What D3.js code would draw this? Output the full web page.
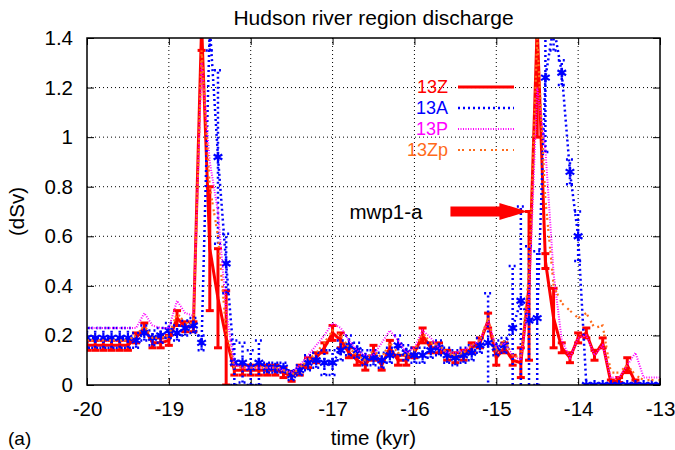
<!DOCTYPE html>
<html>
<head>
<meta charset="utf-8">
<script src="https://cdn.jsdelivr.net/npm/d3@7"></script>
<style>
  body { margin: 0; background: #fff; }
  text { font-family: "Liberation Sans", Arial, sans-serif; }
</style>
</head>
<body>
<div id="chart"></div>
<script>
// chart size
var svgWidth = 675;
var svgHeight = 450;

var margin = { top: 38, right: 15, bottom: 65, left: 87 };
var chartWidth = svgWidth - margin.left - margin.right;
var chartHeight = svgHeight - margin.top - margin.bottom;

// time axis (kyr), one sample every 0.1 kyr
var time = [-20.0, -19.9, -19.8, -19.7, -19.6, -19.5, -19.4, -19.3, -19.2, -19.1,
  -19.0, -18.9, -18.8, -18.7, -18.6, -18.5, -18.4, -18.3, -18.2, -18.1,
  -18.0, -17.9, -17.8, -17.7, -17.6, -17.5, -17.4, -17.3, -17.2, -17.1,
  -17.0, -16.9, -16.8, -16.7, -16.6, -16.5, -16.4, -16.3, -16.2, -16.1,
  -16.0, -15.9, -15.8, -15.7, -15.6, -15.5, -15.4, -15.3, -15.2, -15.1,
  -15.0, -14.9, -14.8, -14.7, -14.6, -14.5, -14.4, -14.3, -14.2, -14.1,
  -14.0, -13.9, -13.8, -13.7, -13.6, -13.5, -13.4, -13.3, -13.2, -13.1, -13.0];

// 13Z discharge and error
var z13 = [0.16, 0.16, 0.16, 0.16, 0.16, 0.16, 0.19, 0.23, 0.17, 0.17,
  0.18, 0.27, 0.235, 0.235, 1.45, 0.55, 0.35, 0.19, 0.06, 0.06,
  0.06, 0.06, 0.06, 0.06, 0.05, 0.035, 0.06, 0.09, 0.11, 0.15,
  0.21, 0.18, 0.13, 0.10, 0.08, 0.13, 0.08, 0.15, 0.10, 0.10,
  0.13, 0.20, 0.15, 0.15, 0.12, 0.11, 0.12, 0.15, 0.17, 0.26,
  0.11, 0.15, 0.10, 0.09, 0.40, 1.45, 0.50, 0.27, 0.15, 0.11,
  0.19, 0.21, 0.12, 0.17, 0.01, 0.02, 0.08, 0.01, 0.0, 0.0, 0.0];
var z13err = [0.02, 0.02, 0.02, 0.02, 0.02, 0.02, 0.02, 0.02, 0.02, 0.02,
  0.02, 0.03, 0.02, 0.02, 0.1, 0.25, 0.2, 0.19, 0.02, 0.02,
  0.02, 0.02, 0.02, 0.02, 0.02, 0.02, 0.02, 0.02, 0.02, 0.02,
  0.03, 0.03, 0.02, 0.02, 0.02, 0.03, 0.02, 0.03, 0.02, 0.02,
  0.02, 0.03, 0.02, 0.02, 0.02, 0.02, 0.02, 0.02, 0.02, 0.03,
  0.03, 0.02, 0.02, 0.06, 0.3, 0.45, 0.03, 0.12, 0.02, 0.02,
  0.02, 0.02, 0.02, 0.02, 0.01, 0.01, 0.03, 0.01, 0.0, 0.0, 0.0];

// 13A discharge and error
var a13 = [0.19, 0.19, 0.19, 0.19, 0.19, 0.19, 0.18, 0.21, 0.19, 0.20,
  0.22, 0.21, 0.23, 0.24, 0.17, 1.45, 0.92, 0.49, 0.09, 0.09,
  0.07, 0.09, 0.07, 0.07, 0.07, 0.04, 0.06, 0.09, 0.10, 0.09,
  0.09, 0.14, 0.16, 0.14, 0.11, 0.11, 0.10, 0.12, 0.16, 0.13,
  0.12, 0.12, 0.14, 0.15, 0.12, 0.11, 0.12, 0.13, 0.16, 0.17,
  0.15, 0.16, 0.23, 0.34, 0.26, 0.27, 1.24, 1.45, 1.26, 0.86,
  0.60, 0.0, 0.0, 0.0, 0.0, 0.0, 0.0, 0.0, 0.0, 0.0, 0.0];
var a13err = [0.04, 0.04, 0.04, 0.04, 0.04, 0.04, 0.03, 0.03, 0.03, 0.03,
  0.03, 0.03, 0.03, 0.03, 0.03, 0.1, 0.35, 0.12, 0.09, 0.08,
  0.07, 0.09, 0.02, 0.02, 0.02, 0.02, 0.02, 0.03, 0.03, 0.05,
  0.05, 0.04, 0.04, 0.03, 0.03, 0.03, 0.03, 0.03, 0.04, 0.03,
  0.03, 0.03, 0.03, 0.03, 0.03, 0.03, 0.03, 0.03, 0.03, 0.2,
  0.03, 0.03, 0.25, 0.38, 0.3, 0.27, 0.3, 0.1, 0.05, 0.05,
  0.1, 0.0, 0.0, 0.0, 0.0, 0.0, 0.0, 0.0, 0.0, 0.0, 0.0];

// 13P discharge
var p13 = [0.23, 0.23, 0.23, 0.23, 0.23, 0.23, 0.23, 0.29, 0.24, 0.23,
  0.23, 0.34, 0.29, 0.28, 1.30, 0.90, 0.70, 0.30, 0.08, 0.07,
  0.07, 0.07, 0.07, 0.07, 0.06, 0.05, 0.08, 0.12, 0.16, 0.20,
  0.25, 0.23, 0.18, 0.14, 0.12, 0.12, 0.17, 0.22, 0.18, 0.13,
  0.15, 0.22, 0.19, 0.15, 0.13, 0.13, 0.14, 0.16, 0.18, 0.26,
  0.15, 0.17, 0.12, 0.10, 0.35, 1.20, 0.95, 0.45, 0.18, 0.11,
  0.19, 0.20, 0.12, 0.16, 0.03, 0.03, 0.08, 0.13, 0.03, 0.03, 0.03];

// 13Zp discharge
var zp13 = [0.18, 0.18, 0.18, 0.18, 0.18, 0.18, 0.20, 0.24, 0.19, 0.19,
  0.20, 0.29, 0.25, 0.25, 1.35, 0.80, 0.60, 0.22, 0.07, 0.07,
  0.07, 0.07, 0.07, 0.07, 0.06, 0.04, 0.07, 0.10, 0.13, 0.17,
  0.22, 0.20, 0.15, 0.12, 0.10, 0.14, 0.11, 0.17, 0.13, 0.12,
  0.14, 0.21, 0.17, 0.16, 0.13, 0.12, 0.13, 0.16, 0.18, 0.27,
  0.14, 0.18, 0.12, 0.11, 0.45, 1.40, 0.75, 0.40, 0.33, 0.30,
  0.27, 0.29, 0.23, 0.24, 0.05, 0.05, 0.08, 0.04, 0.02, 0.02, 0.02];

var xTicks = [-20, -19, -18, -17, -16, -15, -14, -13];
var yTicks = [0, 0.2, 0.4, 0.6, 0.8, 1, 1.2, 1.4];

var seriesNames = ["13Z", "13A", "13P", "13Zp"];
var seriesColors = ["#ff0000", "#0000ff", "#ff00ff", "#ff6a1a"];

// annotation: label and arrow in data units
var noteText = "mwp1-a";
var arrowFrom = [-15.56, 0.70];
var arrowTo = [-14.62, 0.70];

var fontSize = 20.5;

var svg = d3.select("#chart")
  .append("svg")
  .attr("width", svgWidth)
  .attr("height", svgHeight);

svg.append("rect").attr("width", svgWidth).attr("height", svgHeight).attr("fill", "#fff");

var chartGroup = svg.append("g")
  .attr("transform", `translate(${margin.left}, ${margin.top})`);

var x = d3.scaleLinear().domain([-20, -13]).range([0, chartWidth]);
var y = d3.scaleLinear().domain([0, 1.4]).range([chartHeight, 0]);

// grid
chartGroup.append("g")
  .selectAll("line.gx")
  .data(xTicks.slice(1, -1))
  .enter().append("line")
  .attr("x1", d => x(d)).attr("x2", d => x(d))
  .attr("y1", 0).attr("y2", chartHeight)
  .attr("stroke", "#000").attr("stroke-width", 1).attr("stroke-dasharray", "1,3");

chartGroup.append("g")
  .selectAll("line.gy")
  .data(yTicks.slice(1, -1))
  .enter().append("line")
  .attr("x1", 0).attr("x2", chartWidth)
  .attr("y1", d => y(d)).attr("y2", d => y(d))
  .attr("stroke", "#000").attr("stroke-width", 1).attr("stroke-dasharray", "1,3");

// axes
var bottomAxis = d3.axisBottom(x).tickValues(xTicks).tickFormat(d => String(d)).tickSizeInner(-7).tickSizeOuter(0).tickPadding(16);
var leftAxis = d3.axisLeft(y).tickValues(yTicks).tickFormat(d3.format("~g")).tickSizeInner(-7).tickSizeOuter(0).tickPadding(14);
var topAxis = d3.axisTop(x).tickValues(xTicks).tickFormat("").tickSizeInner(-7).tickSizeOuter(0);
var rightAxis = d3.axisRight(y).tickValues(yTicks).tickFormat("").tickSizeInner(-7).tickSizeOuter(0);

function styleAxis(g) {
  g.select(".domain").remove();
  g.selectAll(".tick line").attr("stroke", "#000").attr("stroke-width", 1);
  g.selectAll(".tick text").attr("fill", "#000").attr("font-size", fontSize)
    .attr("font-family", "Liberation Sans, Arial, sans-serif");
}

chartGroup.append("g").attr("transform", `translate(0, ${chartHeight})`).call(bottomAxis).call(styleAxis);
chartGroup.append("g").call(leftAxis).call(styleAxis);
chartGroup.append("g").call(topAxis).call(styleAxis);
chartGroup.append("g").attr("transform", `translate(${chartWidth}, 0)`).call(rightAxis).call(styleAxis);

// clip
svg.append("clipPath").attr("id", "plotclip")
  .append("rect").attr("x", 0).attr("y", 0).attr("width", chartWidth).attr("height", chartHeight);

var plot = chartGroup.append("g").attr("clip-path", "url(#plotclip)");

var line = d3.line().x(d => x(d.t)).y(d => y(d.v));

function rows(values, errs) {
  return time.map((t, i) => ({ t: t, v: values[i], e: errs ? errs[i] : 0 }));
}

function errorBars(g, data, color, width, dash) {
  var bars = g.append("g");
  data.forEach(function(d) {
    if (d.e <= 0) return;
    var xp = x(d.t), lo = y(d.v - d.e), hi = y(d.v + d.e);
    bars.append("line").attr("x1", xp).attr("x2", xp).attr("y1", lo).attr("y2", hi);
    bars.append("line").attr("x1", xp - 4).attr("x2", xp + 4).attr("y1", lo).attr("y2", lo);
    bars.append("line").attr("x1", xp - 4).attr("x2", xp + 4).attr("y1", hi).attr("y2", hi);
  });
  bars.attr("stroke", color).attr("stroke-width", width);
  if (dash) bars.attr("stroke-dasharray", dash);
}

// 13Z
var zData = rows(z13, z13err);
errorBars(plot, zData, seriesColors[0], 3, null);
plot.append("path").datum(zData).attr("d", line)
  .attr("fill", "none").attr("stroke", seriesColors[0]).attr("stroke-width", 3).attr("stroke-linejoin", "round");

// 13A
var aData = rows(a13, a13err);
errorBars(plot, aData, seriesColors[1], 2.5, "2,3");
plot.append("path").datum(aData).attr("d", line)
  .attr("fill", "none").attr("stroke", seriesColors[1]).attr("stroke-width", 2.5).attr("stroke-dasharray", "2,3");
plot.append("g").selectAll("path")
  .data(aData)
  .enter().append("path")
  .attr("transform", d => `translate(${x(d.t)}, ${y(d.v)})`)
  .attr("d", d3.symbol(d3.symbolAsterisk, 70))
  .attr("fill", "none").attr("stroke", seriesColors[1]).attr("stroke-width", 2.2);

// 13P
plot.append("path").datum(rows(p13)).attr("d", line)
  .attr("fill", "none").attr("stroke", seriesColors[2]).attr("stroke-width", 2).attr("stroke-dasharray", "1,1.5");

// 13Zp
plot.append("path").datum(rows(zp13)).attr("d", line)
  .attr("fill", "none").attr("stroke", seriesColors[3]).attr("stroke-width", 2.2).attr("stroke-dasharray", "2,2,2,5");

// border
chartGroup.append("rect").attr("width", chartWidth).attr("height", chartHeight)
  .attr("fill", "none").attr("stroke", "#000").attr("stroke-width", 1.5);

// legend
var legendRight = 448 - margin.left;
var legendRows = [87, 108, 129, 150];
var legendDash = [null, "2,3", "1,1.5", "2,2,2,5"];
var legendWidth = [3, 2.5, 2, 2.2];
var legend = chartGroup.append("g");
seriesNames.forEach(function(name, i) {
  var yy = legendRows[i] - margin.top;
  legend.append("text").attr("x", legendRight).attr("y", yy).attr("dy", "0.35em")
    .attr("text-anchor", "end").attr("font-size", 18).attr("fill", seriesColors[i]).text(name);
  var ln = legend.append("line").attr("x1", legendRight + 10).attr("x2", legendRight + 66)
    .attr("y1", yy).attr("y2", yy)
    .attr("stroke", seriesColors[i]).attr("stroke-width", legendWidth[i]);
  if (legendDash[i]) ln.attr("stroke-dasharray", legendDash[i]);
});

// annotation arrow
var ax0 = x(arrowFrom[0]), ax1 = x(arrowTo[0]), ay = y(arrowTo[1]);
chartGroup.append("text").attr("x", ax0 - 28).attr("y", ay).attr("dy", "0.35em")
  .attr("text-anchor", "end").attr("font-size", fontSize).attr("fill", "#000").text(noteText);
chartGroup.append("path")
  .attr("d", `M${ax0},${ay - 5}L${ax1 - 28},${ay - 5}L${ax1 - 28},${ay - 8.5}L${ax1},${ay}L${ax1 - 28},${ay + 8.5}L${ax1 - 28},${ay + 5}L${ax0},${ay + 5}Z`)
  .attr("fill", "#ff0000");

// titles
svg.append("text").attr("x", margin.left + chartWidth / 2).attr("y", 25)
  .attr("text-anchor", "middle").attr("font-size", 21).text("Hudson river region discharge");
svg.append("text").attr("transform", `translate(24, ${margin.top + chartHeight / 2}) rotate(-90)`)
  .attr("text-anchor", "middle").attr("font-size", fontSize).text("(dSv)");
svg.append("text").attr("x", margin.left + chartWidth / 2).attr("y", 445)
  .attr("text-anchor", "middle").attr("font-size", fontSize).text("time (kyr)");
svg.append("text").attr("x", 8).attr("y", 445)
  .attr("font-size", 19).attr("font-family", "Liberation Serif, Times New Roman, serif").text("(a)");
</script>
</body>
</html>
